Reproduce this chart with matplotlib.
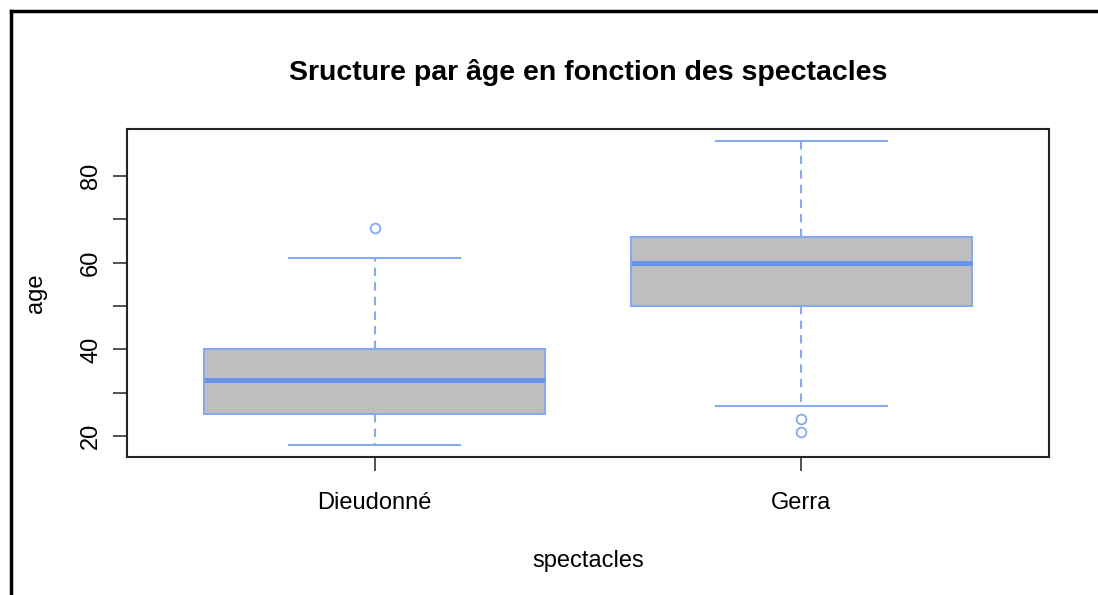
import numpy as np
import matplotlib
matplotlib.use('Agg')
import matplotlib.pyplot as plt
from matplotlib.lines import Line2D

plt.rcParams['font.family'] = ['Liberation Sans', 'DejaVu Sans']

# boxplot summary
spectacles = ['Dieudonné', 'Gerra']
low_whisker = [18, 27]
q1 = [25, 50]
median = [33, 60]
q3 = [40, 66]
high_whisker = [61, 88]
outliers = [[68], [24, 21]]

stats = []
for i in range(len(spectacles)):
    stats.append({'label': spectacles[i], 'whislo': low_whisker[i], 'q1': q1[i],
                  'med': median[i], 'q3': q3[i], 'whishi': high_whisker[i],
                  'fliers': outliers[i]})

edge = '#86A9F0'
med_col = '#6495ED'

fig = plt.figure(figsize=(10.98, 5.95), dpi=100)
ax = fig.add_axes([0.1157, 0.2319, 0.8397, 0.5513])

ax.bxp(stats, positions=[1, 2], widths=0.8, patch_artist=True,
       boxprops=dict(facecolor='#BEBEBE', edgecolor=edge, linewidth=1.5),
       medianprops=dict(color=med_col, linewidth=3.5),
       whiskerprops=dict(color=edge, linewidth=1.5, linestyle=(0, (4, 3))),
       capprops=dict(color=edge, linewidth=1.5),
       capwidths=0.4,
       flierprops=dict(marker='o', markerfacecolor='none', markeredgecolor=edge,
                       markersize=7, markeredgewidth=1.3))

ax.set_xlim(0.42, 2.58)
ax.set_ylim(15.2, 90.8)
ax.set_yticks([20, 30, 40, 50, 60, 70, 80])
ax.set_yticklabels(['20', '', '40', '', '60', '', '80'], rotation=90, va='center')
ax.set_xticks([1, 2])
ax.set_xticklabels(spectacles)
ax.tick_params(axis='both', length=10, width=1.2, labelsize=17, color='#333333', pad=8)
ax.tick_params(axis='x', pad=15)
for s in ax.spines.values():
    s.set_linewidth(1.5)
    s.set_color('#222222')

ax.set_title('Sructure par âge en fonction des spectacles', fontsize=20.5,
             fontweight='bold', pad=35)
ax.set_xlabel('spectacles', fontsize=17, labelpad=26)
ax.set_ylabel('age', fontsize=17, labelpad=24)

# outer frame (top and left edges only)
fig.add_artist(Line2D([0.0096, 1.0], [0.9807, 0.9807], transform=fig.transFigure,
                      color='black', linewidth=2.5))
fig.add_artist(Line2D([0.0096, 0.0096], [0.0, 0.9807], transform=fig.transFigure,
                      color='black', linewidth=2.5))

fig.savefig('out.png', dpi=100)
